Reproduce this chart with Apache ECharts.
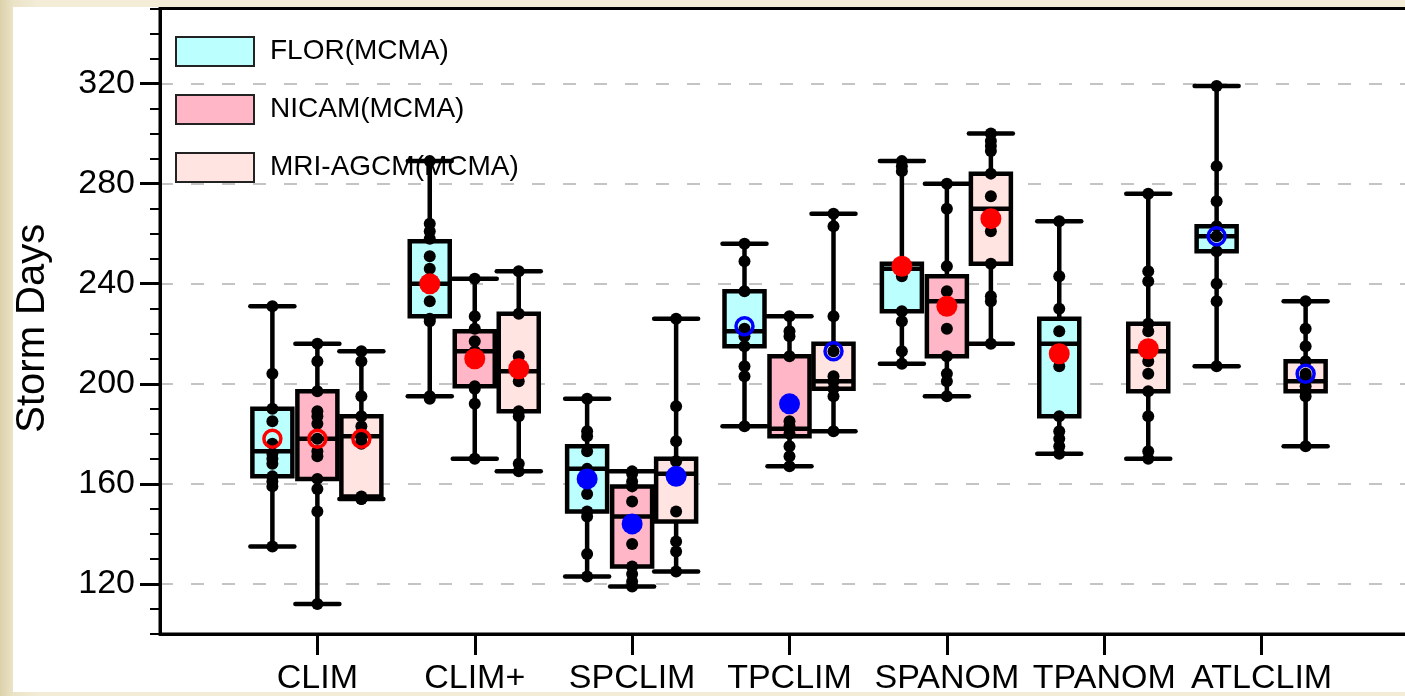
<!DOCTYPE html>
<html>
<head>
<meta charset="utf-8">
<title>Storm Days</title>
<script src="https://cdn.jsdelivr.net/npm/echarts@6/dist/echarts.min.js"></script>
<style>
  html, body {
    margin: 0; padding: 0; width: 1405px; height: 696px; overflow: hidden;
    background: linear-gradient(to right, #dcd1aa 0px, #ebe3c7 13px, #f3edd8 40px, #f3edd8 100%);
  }
  #panel { position: absolute; left: 13px; top: 7px; width: 1400px; height: 685px; background: #fff; }
  #chart { position: absolute; left: 0; top: 0; width: 1420px; height: 696px; }
</style>
</head>
<body>
<div id="panel"></div>
<div id="chart"></div>
<script>
// ── data ─────────────────────────────────────────────────────────
const categories = ['CLIM', 'CLIM+', 'SPCLIM', 'TPCLIM', 'SPANOM', 'TPANOM', 'ATLCLIM'];
const models = ['FLOR(MCMA)', 'NICAM(MCMA)', 'MRI-AGCM(MCMA)'];

const yMajorTicks = [120, 160, 200, 240, 280, 320];
const yMinorTicks = [100, 110, 120, 130, 140, 150, 160, 170, 180, 190, 200, 210, 220, 230,
                     240, 250, 260, 270, 280, 290, 300, 310, 320, 330, 340, 350];
const xTicks = [1, 2, 3, 4, 5, 6, 7];

// [min, Q1, median, Q3, max]; null = experiment not run
const florBox = [
  [135, 163, 173, 190, 231], [195, 227, 240, 257, 289], [123, 149, 166, 175, 194],
  [183, 215, 221, 237, 256], [208, 229, 246, 248, 289], [172, 187, 216, 226, 265],
  [207, 253, 259, 263, 319]
];
const nicamBox = [
  [112, 162, 178, 197, 216], [170, 199, 213, 221, 242], [119, 127, 147, 159, 165],
  [167, 179, 182, 211, 227], [195, 211, 233, 243, 280], null, null
];
const mriBox = [
  [154, 155, 179, 187, 213], [165, 189, 205, 228, 245], [125, 145, 164, 170, 226],
  [181, 198, 201, 216, 268], [216, 248, 270, 284, 300], [170, 197, 213, 224, 276],
  [175, 197, 201, 209, 233]
];

// ensemble mean; up: 1 = increase (red), 0 = decrease (blue); sig: 1 = significant (filled)
const florMean  = [178, 240, 162, 223, 247, 212, 259];
const florUp    = [1, 1, 0, 0, 1, 1, 0];
const florSig   = [0, 1, 1, 0, 1, 1, 0];
const nicamMean = [178, 210, 144, 192, 231, null, null];
const nicamUp   = [1, 1, 0, 0, 1, 0, 0];
const nicamSig  = [0, 1, 1, 1, 1, 0, 0];
const mriMean   = [178, 206, 163, 213, 266, 214, 204];
const mriUp     = [1, 1, 0, 0, 1, 1, 0];
const mriSig    = [0, 1, 1, 0, 1, 1, 0];

// individual ensemble members
const florMembers = [
  [231, 204, 190, 185, 176, 172, 170, 168, 163, 161, 159, 135],
  [289, 264, 261, 258, 251, 246, 240, 233, 226, 225, 195, 194],
  [194, 181, 179, 173, 166, 162, 156, 149, 147, 132, 123],
  [256, 249, 237, 222, 219, 215, 207, 203, 183],
  [289, 287, 285, 247, 243, 229, 225, 213, 208],
  [265, 243, 230, 221, 207, 187, 181, 178, 175, 172],
  [319, 287, 273, 263, 259, 253, 240, 233, 207]
];
const nicamMembers = [
  [216, 209, 197, 189, 187, 184, 178, 173, 171, 162, 158, 149, 112],
  [242, 227, 222, 217, 213, 210, 199, 198, 192, 170],
  [165, 164, 161, 159, 153, 144, 136, 127, 124, 121, 119],
  [227, 221, 219, 211, 185, 183, 180, 175, 171, 167],
  [280, 270, 247, 237, 231, 222, 211, 204, 201, 195],
  [],
  []
];
const mriMembers = [
  [213, 209, 195, 187, 183, 180, 177, 176, 155, 154, 154],
  [245, 228, 211, 206, 201, 189, 187, 168, 165],
  [226, 191, 177, 169, 163, 149, 137, 133, 125],
  [268, 263, 227, 213, 203, 201, 198, 195, 181],
  [300, 297, 295, 293, 284, 275, 266, 261, 248, 235, 233, 216],
  [276, 245, 241, 224, 221, 214, 209, 204, 197, 187, 173, 170],
  [233, 222, 215, 209, 204, 203, 199, 197, 195, 175]
];

// ── styles ───────────────────────────────────────────────────────
const FONT = "'Liberation Sans', Arial, Helvetica, sans-serif";
const FILLS = ['#bbffff', '#ffb6c6', '#ffe4e1'];
const OFFSETS = [-45, 0, 44];
const RED = '#ff0000';
const BLUE = '#0000ff';
const BOX_HALF = 20;
const CAP_HALF = 22;
const LW = 4.5;

const boxes = [florBox, nicamBox, mriBox];
const means = [florMean, nicamMean, mriMean];
const ups = [florUp, nicamUp, mriUp];
const sigs = [florSig, nicamSig, mriSig];
const members = [florMembers, nicamMembers, mriMembers];

const boxRender = (offset, fill) => (params, api) => {
  const x = api.value(0);
  const pMin = api.coord([x, api.value(1)]);
  const pQ1  = api.coord([x, api.value(2)]);
  const pMed = api.coord([x, api.value(3)]);
  const pQ3  = api.coord([x, api.value(4)]);
  const pMax = api.coord([x, api.value(5)]);
  const cx = pMin[0] + offset;
  const stroke = { stroke: '#000', lineWidth: LW, lineCap: 'round' };
  return {
    type: 'group',
    children: [
      { type: 'line', shape: { x1: cx, y1: pMax[1], x2: cx, y2: pMin[1] }, style: stroke },
      { type: 'line', shape: { x1: cx - CAP_HALF, y1: pMax[1], x2: cx + CAP_HALF, y2: pMax[1] }, style: stroke },
      { type: 'line', shape: { x1: cx - CAP_HALF, y1: pMin[1], x2: cx + CAP_HALF, y2: pMin[1] }, style: stroke },
      {
        type: 'rect',
        shape: { x: cx - BOX_HALF, y: pQ3[1], width: BOX_HALF * 2, height: pQ1[1] - pQ3[1] },
        style: { fill, stroke: '#000', lineWidth: LW }
      },
      { type: 'line', shape: { x1: cx - BOX_HALF, y1: pMed[1], x2: cx + BOX_HALF, y2: pMed[1] },
        style: { stroke: '#000', lineWidth: LW } }
    ]
  };
};

const series = [];

models.forEach((name, k) => {
  const data = [];
  boxes[k].forEach((b, i) => { if (b) data.push([i + 1, ...b]); });
  series.push({
    name,
    type: 'custom',
    renderItem: boxRender(OFFSETS[k], FILLS[k]),
    encode: { x: 0, y: [1, 2, 3, 4, 5] },
    data,
    z: 2,
    silent: true
  });
});

models.forEach((name, k) => {
  const data = [];
  members[k].forEach((vals, i) => vals.forEach(v => data.push([i + 1, v])));
  series.push({
    type: 'scatter',
    data,
    symbol: 'circle',
    symbolSize: 12,
    symbolOffset: [OFFSETS[k], 0],
    itemStyle: { color: '#000', opacity: 1 },
    z: 3,
    silent: true
  });
});

models.forEach((name, k) => {
  const data = [];
  means[k].forEach((m, i) => {
    if (m == null) return;
    const c = ups[k][i] ? RED : BLUE;
    const filled = sigs[k][i] === 1;
    data.push({
      value: [i + 1, m],
      symbolSize: filled ? 21 : 17,
      itemStyle: filled
        ? { color: c, borderWidth: 0, opacity: 1 }
        : { color: 'rgba(0,0,0,0)', borderColor: c, borderWidth: 3.5, opacity: 1 }
    });
  });
  series.push({
    type: 'scatter',
    data,
    symbol: 'circle',
    symbolOffset: [OFFSETS[k], 0],
    itemStyle: { opacity: 1 },
    z: 4,
    silent: true
  });
});

const chart = echarts.init(document.getElementById('chart'), null, { renderer: 'canvas' });

chart.setOption({
  animation: false,
  backgroundColor: 'transparent',
  textStyle: { fontFamily: FONT },
  grid: {
    left: 160, right: 1, top: 8.5, bottom: 62,
    show: true, borderColor: '#000', borderWidth: 3, backgroundColor: 'transparent',
    outerBoundsMode: 'none'
  },
  legend: {
    orient: 'vertical',
    left: 170, top: 31,
    itemWidth: 78, itemHeight: 29, itemGap: 27,
    selectedMode: false,
    textStyle: { fontSize: 28, color: '#000', fontFamily: FONT, padding: [0, 0, 0, 11] },
    data: models.map((m, k) => ({
      name: m,
      icon: 'rect',
      itemStyle: { color: FILLS[k], borderColor: '#222', borderWidth: 2 }
    }))
  },
  xAxis: {
    type: 'value',
    min: 0, max: 8,
    axisLine: { show: true, lineStyle: { color: '#000', width: 3 } },
    axisTick: { show: true, customValues: xTicks, length: 21, lineStyle: { color: '#000', width: 3 } },
    axisLabel: {
      customValues: xTicks,
      formatter: v => categories[v - 1] || '',
      margin: 28, fontSize: 34, color: '#000', fontFamily: FONT
    },
    splitLine: { show: false }
  },
  yAxis: [
    {
      type: 'value',
      min: 100, max: 350,
      name: 'Storm Days',
      nameLocation: 'middle',
      nameGap: 107,
      nameTextStyle: { fontSize: 40, color: '#000', fontFamily: FONT, padding: [0, 14, 0, 0] },
      axisLine: { show: true, lineStyle: { color: '#000', width: 3 } },
      axisTick: { show: true, customValues: yMajorTicks, length: 20, lineStyle: { color: '#000', width: 3 } },
      axisLabel: { customValues: yMajorTicks, margin: 25, fontSize: 34, color: '#000', fontFamily: FONT },
      splitLine: { show: true, lineStyle: { color: '#c4c4c4', width: 2, type: [13, 18] } }
    },
    {
      type: 'value',
      min: 100, max: 350,
      position: 'left',
      axisLine: { show: false },
      axisLabel: { show: false },
      splitLine: { show: false },
      axisTick: { show: true, customValues: yMinorTicks, length: 10, lineStyle: { color: '#000', width: 2 } }
    }
  ],
  series
});
</script>
</body>
</html>
